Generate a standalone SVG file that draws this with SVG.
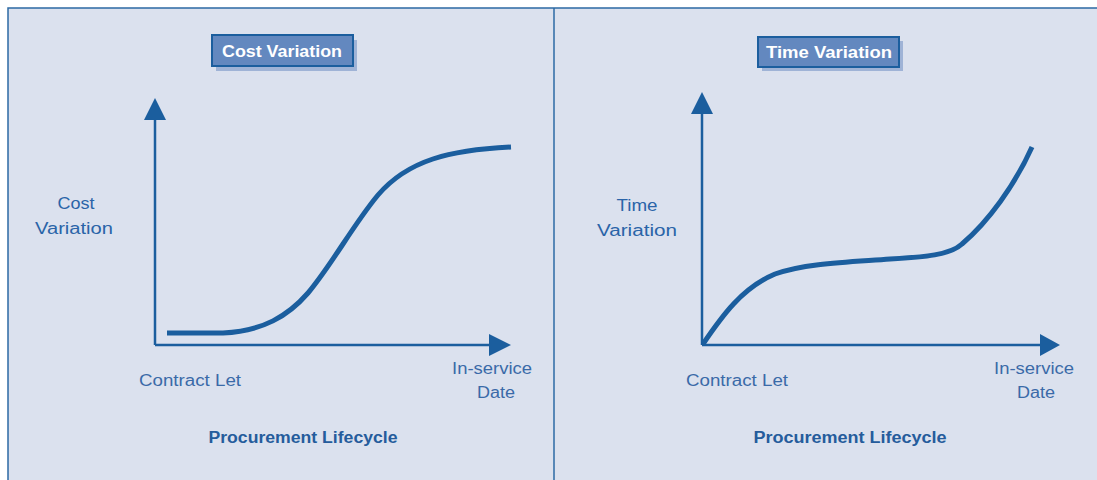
<svg xmlns="http://www.w3.org/2000/svg" width="1097" height="480" viewBox="0 0 1097 480">
<defs>
<style>
.lbl{font-family:"Liberation Sans",Arial,sans-serif;font-size:16px;fill:#3a6aa8;text-anchor:middle}
.axlbl{font-family:"Liberation Sans",Arial,sans-serif;font-size:16px;fill:#2a64a8;text-anchor:middle}
.proc{font-family:"Liberation Sans",Arial,sans-serif;font-size:16px;font-weight:bold;fill:#255c9c;text-anchor:middle}
.title{font-family:"Liberation Sans",Arial,sans-serif;font-size:16px;font-weight:bold;fill:#ffffff;text-anchor:middle}
.axis{stroke:#1b5e9e;stroke-width:2.5;fill:none}
.curve{stroke:#1b5e9e;stroke-width:5;fill:none;stroke-linecap:butt}
.head{fill:#1b5e9e}
.tbox{fill:#6388bf;stroke:#1b5e9e;stroke-width:2}
.shadow{fill:#9fb3d6}
</style>
</defs>
<rect x="0" y="0" width="1097" height="480" fill="#ffffff"/>
<rect x="8" y="8" width="1100" height="480" fill="#dbe1ee" stroke="#2d6aa4" stroke-width="1.5"/>
<line x1="554" y1="8" x2="554" y2="480" stroke="#2d6aa4" stroke-width="1.5"/>

<g id="cost-title">
<rect class="shadow" x="216" y="40" width="141" height="31"/>
<rect class="tbox" x="212" y="35" width="141" height="31"/>
<text class="title" x="282" y="57" textLength="120" lengthAdjust="spacingAndGlyphs">Cost Variation</text>
</g>
<g id="time-title">
<rect class="shadow" x="762" y="41" width="141" height="30"/>
<rect class="tbox" x="758" y="37" width="141" height="30"/>
<text class="title" x="829" y="58" textLength="126" lengthAdjust="spacingAndGlyphs">Time Variation</text>
</g>

<g id="connectors">
<line class="axis" x1="155" y1="116" x2="155" y2="345"/>
<polygon class="head" points="155,98 166,120 144,120"/>
<line class="axis" x1="155" y1="345" x2="492" y2="345"/>
<polygon class="head" points="511,345 489,334 489,356"/>
<line class="axis" x1="702" y1="110" x2="702" y2="345"/>
<polygon class="head" points="702,92 713,114 691,114"/>
<line class="axis" x1="702" y1="345" x2="1042" y2="345"/>
<polygon class="head" points="1060,345 1040,334 1040,356"/>
</g>

<g id="cost-curve">
<path class="curve" d="M167,333 L223,333 C263,331 288,316 308,293 C333,263 353,225 378,195 C408,160 450,150 511,147"/>
</g>
<g id="time-curve">
<path class="curve" d="M703,344 C722,316 742,288 775,274 C805,263 850,262 890,259 C925,257 950,255 962,244 C988,222 1015,185 1032,147"/>
</g>

<g id="cost-labels">
<text class="axlbl" x="76" y="209" textLength="37" lengthAdjust="spacingAndGlyphs">Cost</text>
<text class="axlbl" x="74" y="234" textLength="78" lengthAdjust="spacingAndGlyphs">Variation</text>
<text class="lbl" x="190" y="386" textLength="102" lengthAdjust="spacingAndGlyphs">Contract Let</text>
<text class="lbl" x="492" y="374" textLength="80" lengthAdjust="spacingAndGlyphs">In-service</text>
<text class="lbl" x="496" y="398" textLength="38" lengthAdjust="spacingAndGlyphs">Date</text>
<text class="proc" x="303" y="443" textLength="189" lengthAdjust="spacingAndGlyphs">Procurement Lifecycle</text>
</g>
<g id="time-labels">
<text class="axlbl" x="637" y="211" textLength="41" lengthAdjust="spacingAndGlyphs">Time</text>
<text class="axlbl" x="637" y="236" textLength="80" lengthAdjust="spacingAndGlyphs">Variation</text>
<text class="lbl" x="737" y="386" textLength="102" lengthAdjust="spacingAndGlyphs">Contract Let</text>
<text class="lbl" x="1034" y="374" textLength="80" lengthAdjust="spacingAndGlyphs">In-service</text>
<text class="lbl" x="1036" y="398" textLength="38" lengthAdjust="spacingAndGlyphs">Date</text>
<text class="proc" x="850" y="443" textLength="193" lengthAdjust="spacingAndGlyphs">Procurement Lifecycle</text>
</g>
</svg>
